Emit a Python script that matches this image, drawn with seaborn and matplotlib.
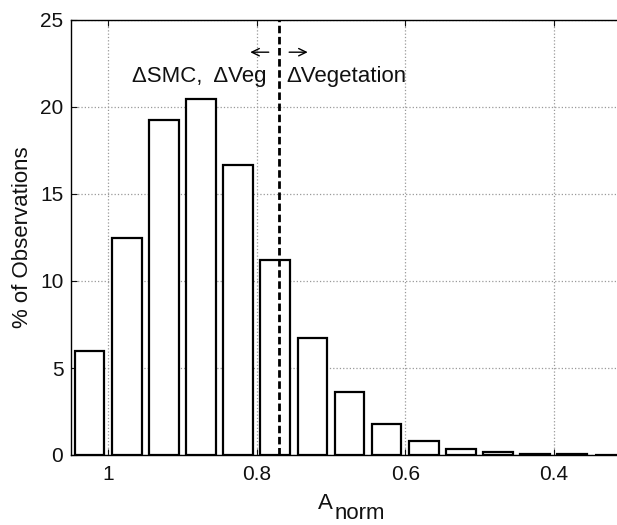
import numpy as np
import pandas as pd
import matplotlib
matplotlib.use("Agg")
import matplotlib.pyplot as plt
import seaborn as sns

# bin centres (A_norm) and share of observations in each bin
a_norm = [1.025, 0.975, 0.925, 0.875, 0.825, 0.775, 0.725, 0.675,
          0.625, 0.575, 0.525, 0.475, 0.425, 0.375, 0.325]
pct_obs = [6.0, 12.45, 19.25, 20.47, 16.65, 11.22, 6.73, 3.6,
           1.76, 0.8, 0.33, 0.16, 0.08, 0.04, 0.02]
bin_edges = [1.05, 1.0, 0.95, 0.9, 0.85, 0.8, 0.75, 0.7,
             0.65, 0.6, 0.55, 0.5, 0.45, 0.4, 0.35, 0.3]
threshold = 0.77
xticks = [1, 0.8, 0.6, 0.4]
xtick_labels = ["1", "0.8", "0.6", "0.4"]
yticks = [0, 5, 10, 15, 20, 25]

sns.set_theme(style="ticks")
plt.rcParams["font.family"] = ["Liberation Sans", "DejaVu Sans"]
plt.rcParams["text.color"] = "#111111"
plt.rcParams["axes.labelcolor"] = "#111111"

df = pd.DataFrame({"a_norm": a_norm, "pct": pct_obs})

fig = plt.figure(figsize=(6.17, 5.25), dpi=100)
ax = fig.add_axes([71 / 617, 70 / 525, 557 / 617, 435 / 525])

sns.histplot(data=df, x="a_norm", weights="pct", bins=sorted(bin_edges),
             shrink=0.8, color="white", edgecolor="black", linewidth=1.6,
             alpha=1, ax=ax, zorder=3)

ax.axvline(threshold, color="black", linestyle="--", linewidth=2,
           dashes=(2.7, 1.3), zorder=4)

ax.set_xlim(1.05, 0.3)
ax.set_ylim(0, 25)
ax.set_xticks(xticks)
ax.set_xticklabels(xtick_labels)
ax.set_yticks(yticks)
ax.grid(True, color="#999999", linestyle=":", linewidth=0.9, zorder=0)
ax.set_axisbelow(True)
ax.tick_params(direction="in", length=4, width=0.8, top=True, right=True,
               labelsize=15, colors="#111111", pad=7)
ax.tick_params(axis="y", pad=5.5)
for s in ax.spines.values():
    s.set_color("black")
    s.set_linewidth(1.0)

ax.set_ylabel("% of Observations", fontsize=16, labelpad=5)
ax.set_xlabel("A", fontsize=16)
ax.xaxis.set_label_coords(0.457, -0.088)
ax.annotate("norm", xy=(1, 0), xycoords=ax.xaxis.label, xytext=(1, -3.6),
            textcoords="offset points", ha="left", va="baseline", fontsize=16)

ax.text(0.7873, 21.45, "\u0394SMC,  \u0394Veg", ha="right", va="baseline",
        fontsize=16)
ax.text(0.760, 21.45, "\u0394Vegetation", ha="left", va="baseline", fontsize=16)
ax.annotate("", xy=(0.8124, 23.15), xytext=(0.780, 23.15),
            arrowprops=dict(arrowstyle="->, head_length=0.45, head_width=0.22",
                            lw=1, color="black"))
ax.annotate("", xy=(0.7275, 23.15), xytext=(0.760, 23.15),
            arrowprops=dict(arrowstyle="->, head_length=0.45, head_width=0.22",
                            lw=1, color="black"))

fig.savefig("out.png", dpi=100)
